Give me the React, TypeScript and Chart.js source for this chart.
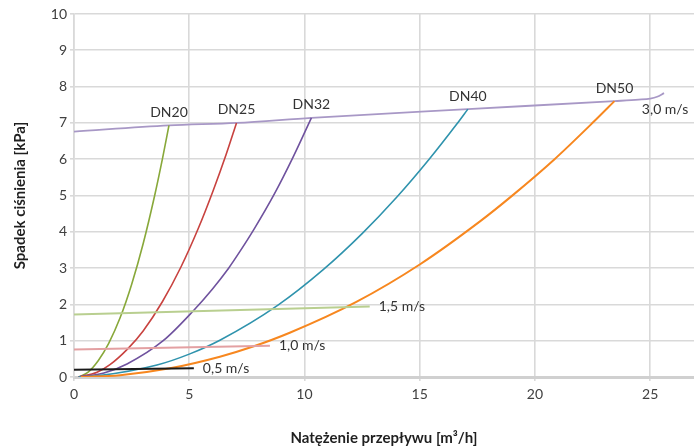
import React, { useEffect, useRef } from "react";
import { Chart, registerables } from "chart.js";

Chart.register(...registerables);

// Pipe curves: flow [m3/h] vs pressure drop [kPa]
const dn20X = [0.2, 0.6, 1.05, 1.5, 2.0, 2.5, 3.0, 3.5, 3.85, 4.12];
const dn20Y = [0, 0.13, 0.45, 0.92, 1.63, 2.55, 3.67, 5.0, 6.05, 6.93];

const dn25X = [0.2, 1.0, 1.56, 2.35, 3.0, 3.84, 4.64, 5.39, 6.04, 6.6, 7.05];
const dn25Y = [0, 0.13, 0.34, 0.79, 1.27, 2.08, 3.03, 4.09, 5.14, 6.13, 7.0];

const dn32X = [0.2, 1.3, 2.3, 3.87, 5.17, 6.0, 6.7, 7.2, 7.8, 8.7, 9.5, 10.3];
const dn32Y = [0, 0.11, 0.36, 1.0, 1.82, 2.42, 2.99, 3.46, 4.06, 5.05, 6.05, 7.14];

const dn40X = [0.2, 1.0, 3.6, 5.0, 6.35, 8.85, 10.8, 12.5, 14.0, 15.4, 16.6, 17.09];
const dn40Y = [0, 0.03, 0.33, 0.63, 1.02, 1.98, 2.95, 3.95, 4.95, 5.99, 6.96, 7.38];

const dn50X = [0.3, 2.0, 4.16, 6.33, 7.77, 9.36, 12.25, 15.0, 17.6, 19.0, 20.85, 22.58, 23.45];
const dn50Y = [0, 0.05, 0.24, 0.56, 0.84, 1.22, 2.07, 3.1, 4.28, 4.99, 6.0, 7.05, 7.6];

// Velocity lines
const v30X = [0, 4.12, 7.05, 10.3, 17.09, 23.45, 24.5, 25.0, 25.3, 25.6];
const v30Y = [6.76, 6.93, 7.0, 7.14, 7.38, 7.6, 7.64, 7.67, 7.72, 7.82];

const v15X = [0, 12.83];
const v15Y = [1.72, 1.94];

const v10X = [0, 8.5];
const v10Y = [0.76, 0.86];

const v05X = [0, 5.2];
const v05Y = [0.2, 0.24];

const pipeNames = ["DN20", "DN25", "DN32", "DN40", "DN50"];
const velocityNames = ["3,0 m/s", "1,5 m/s", "1,0 m/s", "0,5 m/s"];

const xTitle = "Natężenie przepływu [m³/h]";
const yTitle = "Spadek ciśnienia [kPa]";

const FONT = "Lato, 'Noto Sans', sans-serif";

const toPts = (xs: number[], ys: number[]) => xs.map((x, i) => ({ x, y: ys[i] }));

const endLabels = {
  id: "endLabels",
  afterDatasetsDraw(chart: any) {
    const ctx = chart.ctx;
    ctx.save();
    ctx.font = `14px ${FONT}`;
    ctx.fillStyle = "#333333";
    chart.data.datasets.forEach((ds: any, i: number) => {
      const meta = chart.getDatasetMeta(i);
      const pt = meta.data[meta.data.length - 1];
      if (!pt) return;
      const place = ds.endLabelPlace;
      if (place === "above") {
        ctx.textAlign = "center";
        ctx.textBaseline = "middle";
        ctx.fillText(ds.label, pt.x, pt.y - 13);
      } else if (place === "below") {
        ctx.textAlign = "center";
        ctx.textBaseline = "middle";
        ctx.fillText(ds.label, pt.x + 1, pt.y + 16);
      } else if (place === "right") {
        ctx.textAlign = "left";
        ctx.textBaseline = "middle";
        ctx.fillText(ds.label, pt.x + 9, pt.y);
      }
    });
    ctx.restore();
  },
};

export default function App() {
  const ref = useRef<HTMLCanvasElement | null>(null);

  useEffect(() => {
    document.body.style.margin = "0";
    if (!ref.current) return;

    const line = (label: string, xs: number[], ys: number[], color: string, width: number, place: string) => ({
      label,
      data: toPts(xs, ys),
      borderColor: color,
      backgroundColor: color,
      borderWidth: width,
      pointRadius: 0,
      fill: false,
      cubicInterpolationMode: "monotone" as const,
      endLabelPlace: place,
    });

    const chart = new Chart(ref.current, {
      type: "line",
      data: {
        datasets: [
          line(velocityNames[3], v05X, v05Y, "#1a1a1a", 2, "right"),
          line(velocityNames[2], v10X, v10Y, "#e3a0a2", 2, "right"),
          line(velocityNames[1], v15X, v15Y, "#b9cf90", 2, "right"),
          line(pipeNames[4], dn50X, dn50Y, "#f7871f", 2, "above"),
          line(pipeNames[3], dn40X, dn40Y, "#2f93ad", 1.6, "above"),
          line(pipeNames[2], dn32X, dn32Y, "#6f529e", 1.6, "above"),
          line(pipeNames[1], dn25X, dn25Y, "#c8423f", 1.6, "above"),
          line(pipeNames[0], dn20X, dn20Y, "#88a83a", 1.6, "above"),
          line(velocityNames[0], v30X, v30Y, "#a898c6", 1.8, "below"),
        ] as any,
      },
      options: {
        animation: false,
        responsive: false,
        maintainAspectRatio: false,
        parsing: false as any,
        layout: { padding: { top: 14, left: 0, right: 0, bottom: 0 } },
        plugins: {
          legend: { display: false },
          tooltip: { enabled: false },
        },
        scales: {
          x: {
            type: "linear",
            min: 0,
            max: 26.9,
            ticks: {
              stepSize: 5,
              includeBounds: false,
              padding: 5,
              color: "#404040",
              font: { family: FONT, size: 14 },
            },
            grid: { color: "#d9d9d9", lineWidth: 1.6, drawTicks: true, tickLength: 4, tickColor: "#d9d9d9" },
            border: { display: true, color: "#d0d0d0", width: 3 },
            title: {
              display: true,
              text: xTitle,
              color: "#1f1f1f",
              font: { family: FONT, size: 15, weight: "bold" },
              padding: { top: 0, bottom: 1 },
            },
            afterFit: (s: any) => {
              s.height = 71;
            },
          },
          y: {
            type: "linear",
            min: 0,
            max: 10,
            ticks: {
              stepSize: 1,
              padding: 3,
              color: "#404040",
              font: { family: FONT, size: 14 },
            },
            grid: { color: "#d9d9d9", lineWidth: 1.6, drawTicks: true, tickLength: 4, tickColor: "#d9d9d9" },
            border: { display: true, color: "#d9d9d9", width: 1.6 },
            title: {
              display: true,
              text: yTitle,
              color: "#1f1f1f",
              font: { family: FONT, size: 15, weight: "bold" },
              padding: { top: 11, bottom: 0 },
            },
            afterFit: (s: any) => {
              s.width = 74;
            },
          },
        },
      },
      plugins: [endLabels],
    });

    return () => chart.destroy();
  }, []);

  return (
    <div style={{ width: 694, height: 448, background: "#ffffff" }}>
      <canvas ref={ref} width={694} height={448} style={{ display: "block" }} />
    </div>
  );
}
